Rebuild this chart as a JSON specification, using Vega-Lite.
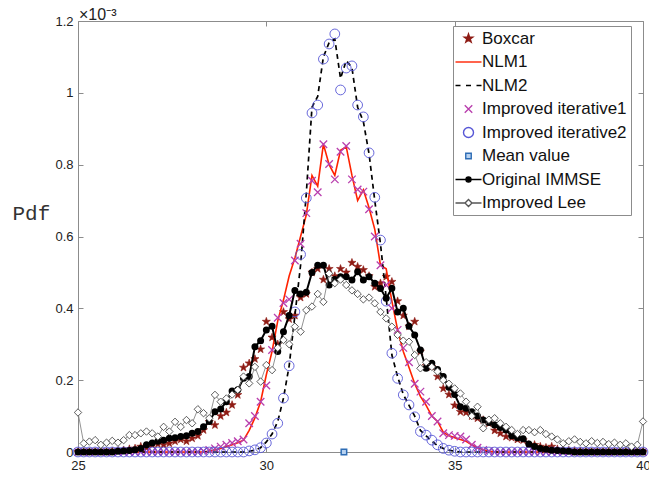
{
"$schema": "https://vega.github.io/schema/vega-lite/v6.json",
"width": 565, "height": 431,
"autosize": {"type": "none"},
"padding": {"left": 78, "top": 21, "right": 6, "bottom": 26},
"background": "white",
"title": {"text": "×10⁻³", "anchor": "start", "frame": "group", "offset": 3, "dx": 1, "dy": 11, "fontSize": 16, "font": "Liberation Sans", "fontWeight": "normal", "color": "#222"},
"config": {
  "font": "Liberation Sans",
  "view": {"stroke": "#8c8c8c", "strokeWidth": 1},
  "axis": {"grid": false, "domain": false, "tickColor": "#8c8c8c", "tickSize": -5, "labelFont": "Liberation Sans", "labelFontSize": 13, "labelColor": "#222"},
  "legend": {"orient": "none", "legendX": 375, "legendY": 5, "padding": 4, "strokeColor": "#8c8c8c", "fillColor": "#ffffff", "cornerRadius": 0, "labelFont": "Liberation Sans", "labelFontSize": 17, "labelColor": "#111", "symbolSize": 100, "symbolStrokeWidth": 1.4, "symbolOffset": 3, "labelOffset": 5, "rowPadding": 5.5, "labelLimit": 300, "symbolOpacity": 1}
},
"datasets": {
"mean": [{"series": "Mean value", "x": 32.06, "value": 0}],
"pdf": [
{"x":25.000,"Boxcar":0,"NLM1":0,"NLM2":0,"Improved iterative1":0,"Improved iterative2":0,"Original IMMSE":0,"Improved Lee":0.11},
{"x":25.152,"Boxcar":0,"NLM1":0,"NLM2":0,"Improved iterative1":0,"Improved iterative2":0,"Original IMMSE":0,"Improved Lee":0.024},
{"x":25.303,"Boxcar":0,"NLM1":0,"NLM2":0,"Improved iterative1":0,"Improved iterative2":0,"Original IMMSE":0,"Improved Lee":0.029},
{"x":25.455,"Boxcar":0,"NLM1":0,"NLM2":0,"Improved iterative1":0,"Improved iterative2":0,"Original IMMSE":0,"Improved Lee":0.033},
{"x":25.606,"Boxcar":0,"NLM1":0,"NLM2":0,"Improved iterative1":0,"Improved iterative2":0,"Original IMMSE":0,"Improved Lee":0.02},
{"x":25.758,"Boxcar":0,"NLM1":0,"NLM2":0,"Improved iterative1":0,"Improved iterative2":0,"Original IMMSE":0,"Improved Lee":0.026},
{"x":25.909,"Boxcar":0.002,"NLM1":0,"NLM2":0,"Improved iterative1":0,"Improved iterative2":0,"Original IMMSE":0,"Improved Lee":0.031},
{"x":26.061,"Boxcar":0.003,"NLM1":0,"NLM2":0,"Improved iterative1":0,"Improved iterative2":0,"Original IMMSE":0.002,"Improved Lee":0.026},
{"x":26.212,"Boxcar":0.005,"NLM1":0,"NLM2":0,"Improved iterative1":0,"Improved iterative2":0,"Original IMMSE":0.003,"Improved Lee":0.033},
{"x":26.364,"Boxcar":0.008,"NLM1":0,"NLM2":0,"Improved iterative1":0,"Improved iterative2":0,"Original IMMSE":0.004,"Improved Lee":0.047},
{"x":26.515,"Boxcar":0.01,"NLM1":0,"NLM2":0,"Improved iterative1":0,"Improved iterative2":0,"Original IMMSE":0.006,"Improved Lee":0.047},
{"x":26.667,"Boxcar":0.015,"NLM1":0,"NLM2":0,"Improved iterative1":0,"Improved iterative2":0,"Original IMMSE":0.01,"Improved Lee":0.052},
{"x":26.818,"Boxcar":0.012,"NLM1":0,"NLM2":0,"Improved iterative1":0,"Improved iterative2":0,"Original IMMSE":0.02,"Improved Lee":0.057},
{"x":26.970,"Boxcar":0.02,"NLM1":0,"NLM2":0,"Improved iterative1":0,"Improved iterative2":0,"Original IMMSE":0.025,"Improved Lee":0.052},
{"x":27.121,"Boxcar":0.022,"NLM1":0,"NLM2":0,"Improved iterative1":0,"Improved iterative2":0,"Original IMMSE":0.03,"Improved Lee":0.043},
{"x":27.273,"Boxcar":0.02,"NLM1":0,"NLM2":0,"Improved iterative1":0,"Improved iterative2":0,"Original IMMSE":0.033,"Improved Lee":0.07},
{"x":27.424,"Boxcar":0.024,"NLM1":0,"NLM2":0,"Improved iterative1":0,"Improved iterative2":0,"Original IMMSE":0.038,"Improved Lee":0.057},
{"x":27.576,"Boxcar":0.03,"NLM1":0,"NLM2":0,"Improved iterative1":0,"Improved iterative2":0,"Original IMMSE":0.04,"Improved Lee":0.084},
{"x":27.727,"Boxcar":0.035,"NLM1":0,"NLM2":0,"Improved iterative1":0,"Improved iterative2":0,"Original IMMSE":0.043,"Improved Lee":0.07},
{"x":27.879,"Boxcar":0.03,"NLM1":0,"NLM2":0,"Improved iterative1":0,"Improved iterative2":0,"Original IMMSE":0.045,"Improved Lee":0.089},
{"x":28.030,"Boxcar":0.038,"NLM1":0,"NLM2":0,"Improved iterative1":0,"Improved iterative2":0,"Original IMMSE":0.052,"Improved Lee":0.08},
{"x":28.182,"Boxcar":0.045,"NLM1":0,"NLM2":0,"Improved iterative1":0,"Improved iterative2":0,"Original IMMSE":0.057,"Improved Lee":0.119},
{"x":28.333,"Boxcar":0.061,"NLM1":0,"NLM2":0,"Improved iterative1":0.003,"Improved iterative2":0,"Original IMMSE":0.07,"Improved Lee":0.108},
{"x":28.485,"Boxcar":0.084,"NLM1":0.003,"NLM2":0,"Improved iterative1":0.006,"Improved iterative2":0,"Original IMMSE":0.085,"Improved Lee":0.094},
{"x":28.636,"Boxcar":0.075,"NLM1":0.006,"NLM2":0,"Improved iterative1":0.01,"Improved iterative2":0,"Original IMMSE":0.112,"Improved Lee":0.159},
{"x":28.788,"Boxcar":0.1,"NLM1":0.01,"NLM2":0,"Improved iterative1":0.015,"Improved iterative2":0,"Original IMMSE":0.12,"Improved Lee":0.14},
{"x":28.939,"Boxcar":0.11,"NLM1":0.015,"NLM2":0,"Improved iterative1":0.02,"Improved iterative2":0,"Original IMMSE":0.14,"Improved Lee":0.149},
{"x":29.091,"Boxcar":0.131,"NLM1":0.02,"NLM2":0,"Improved iterative1":0.025,"Improved iterative2":0,"Original IMMSE":0.17,"Improved Lee":0.16},
{"x":29.242,"Boxcar":0.159,"NLM1":0.026,"NLM2":0,"Improved iterative1":0.03,"Improved iterative2":0,"Original IMMSE":0.173,"Improved Lee":0.173},
{"x":29.394,"Boxcar":0.235,"NLM1":0.033,"NLM2":0,"Improved iterative1":0.035,"Improved iterative2":0,"Original IMMSE":0.205,"Improved Lee":0.21},
{"x":29.545,"Boxcar":0.247,"NLM1":0.06,"NLM2":0.002,"Improved iterative1":0.08,"Improved iterative2":0.003,"Original IMMSE":0.21,"Improved Lee":0.191},
{"x":29.697,"Boxcar":0.259,"NLM1":0.095,"NLM2":0.005,"Improved iterative1":0.1,"Improved iterative2":0.006,"Original IMMSE":0.293,"Improved Lee":0.237},
{"x":29.848,"Boxcar":0.286,"NLM1":0.14,"NLM2":0.012,"Improved iterative1":0.14,"Improved iterative2":0.012,"Original IMMSE":0.31,"Improved Lee":0.196},
{"x":30.000,"Boxcar":0.363,"NLM1":0.215,"NLM2":0.028,"Improved iterative1":0.185,"Improved iterative2":0.025,"Original IMMSE":0.34,"Improved Lee":0.242},
{"x":30.152,"Boxcar":0.319,"NLM1":0.28,"NLM2":0.05,"Improved iterative1":0.284,"Improved iterative2":0.05,"Original IMMSE":0.35,"Improved Lee":0.228},
{"x":30.303,"Boxcar":0.3,"NLM1":0.365,"NLM2":0.085,"Improved iterative1":0.374,"Improved iterative2":0.08,"Original IMMSE":0.28,"Improved Lee":0.29},
{"x":30.455,"Boxcar":0.39,"NLM1":0.423,"NLM2":0.15,"Improved iterative1":0.415,"Improved iterative2":0.15,"Original IMMSE":0.335,"Improved Lee":0.312},
{"x":30.606,"Boxcar":0.37,"NLM1":0.49,"NLM2":0.24,"Improved iterative1":0.425,"Improved iterative2":0.24,"Original IMMSE":0.38,"Improved Lee":0.3},
{"x":30.758,"Boxcar":0.38,"NLM1":0.54,"NLM2":0.38,"Improved iterative1":0.533,"Improved iterative2":0.39,"Original IMMSE":0.45,"Improved Lee":0.349},
{"x":30.909,"Boxcar":0.43,"NLM1":0.6,"NLM2":0.52,"Improved iterative1":0.58,"Improved iterative2":0.55,"Original IMMSE":0.44,"Improved Lee":0.335},
{"x":31.061,"Boxcar":0.44,"NLM1":0.66,"NLM2":0.72,"Improved iterative1":0.665,"Improved iterative2":0.707,"Original IMMSE":0.445,"Improved Lee":0.395},
{"x":31.212,"Boxcar":0.5,"NLM1":0.77,"NLM2":0.96,"Improved iterative1":0.755,"Improved iterative2":0.944,"Original IMMSE":0.5,"Improved Lee":0.405},
{"x":31.364,"Boxcar":0.51,"NLM1":0.74,"NLM2":0.99,"Improved iterative1":0.723,"Improved iterative2":0.966,"Original IMMSE":0.52,"Improved Lee":0.44},
{"x":31.515,"Boxcar":0.48,"NLM1":0.857,"NLM2":1.1,"Improved iterative1":0.857,"Improved iterative2":1.094,"Original IMMSE":0.52,"Improved Lee":0.418},
{"x":31.667,"Boxcar":0.51,"NLM1":0.8,"NLM2":1.14,"Improved iterative1":0.802,"Improved iterative2":1.136,"Original IMMSE":0.465,"Improved Lee":0.497},
{"x":31.818,"Boxcar":0.49,"NLM1":0.77,"NLM2":1.15,"Improved iterative1":0.759,"Improved iterative2":1.164,"Original IMMSE":0.48,"Improved Lee":0.47},
{"x":31.970,"Boxcar":0.51,"NLM1":0.84,"NLM2":1.04,"Improved iterative1":0.836,"Improved iterative2":1.008,"Original IMMSE":0.488,"Improved Lee":0.48},
{"x":32.121,"Boxcar":0.5,"NLM1":0.85,"NLM2":1.09,"Improved iterative1":0.852,"Improved iterative2":1.069,"Original IMMSE":0.488,"Improved Lee":0.465},
{"x":32.273,"Boxcar":0.527,"NLM1":0.77,"NLM2":1.07,"Improved iterative1":0.759,"Improved iterative2":1.075,"Original IMMSE":0.479,"Improved Lee":0.45},
{"x":32.424,"Boxcar":0.516,"NLM1":0.7,"NLM2":0.96,"Improved iterative1":0.731,"Improved iterative2":0.966,"Original IMMSE":0.502,"Improved Lee":0.44},
{"x":32.576,"Boxcar":0.507,"NLM1":0.73,"NLM2":0.92,"Improved iterative1":0.725,"Improved iterative2":0.933,"Original IMMSE":0.479,"Improved Lee":0.425},
{"x":32.727,"Boxcar":0.49,"NLM1":0.68,"NLM2":0.83,"Improved iterative1":0.676,"Improved iterative2":0.833,"Original IMMSE":0.488,"Improved Lee":0.43},
{"x":32.879,"Boxcar":0.46,"NLM1":0.62,"NLM2":0.7,"Improved iterative1":0.6,"Improved iterative2":0.709,"Original IMMSE":0.47,"Improved Lee":0.414},
{"x":33.030,"Boxcar":0.47,"NLM1":0.52,"NLM2":0.58,"Improved iterative1":0.52,"Improved iterative2":0.59,"Original IMMSE":0.455,"Improved Lee":0.39},
{"x":33.182,"Boxcar":0.488,"NLM1":0.51,"NLM2":0.43,"Improved iterative1":0.465,"Improved iterative2":0.42,"Original IMMSE":0.428,"Improved Lee":0.372},
{"x":33.333,"Boxcar":0.474,"NLM1":0.42,"NLM2":0.27,"Improved iterative1":0.4,"Improved iterative2":0.275,"Original IMMSE":0.456,"Improved Lee":0.349},
{"x":33.485,"Boxcar":0.42,"NLM1":0.34,"NLM2":0.21,"Improved iterative1":0.34,"Improved iterative2":0.205,"Original IMMSE":0.39,"Improved Lee":0.326},
{"x":33.636,"Boxcar":0.38,"NLM1":0.28,"NLM2":0.16,"Improved iterative1":0.29,"Improved iterative2":0.159,"Original IMMSE":0.4,"Improved Lee":0.31},
{"x":33.788,"Boxcar":0.35,"NLM1":0.235,"NLM2":0.13,"Improved iterative1":0.25,"Improved iterative2":0.131,"Original IMMSE":0.35,"Improved Lee":0.307},
{"x":33.939,"Boxcar":0.363,"NLM1":0.19,"NLM2":0.1,"Improved iterative1":0.19,"Improved iterative2":0.098,"Original IMMSE":0.326,"Improved Lee":0.27},
{"x":34.091,"Boxcar":0.28,"NLM1":0.155,"NLM2":0.06,"Improved iterative1":0.168,"Improved iterative2":0.057,"Original IMMSE":0.284,"Improved Lee":0.233},
{"x":34.242,"Boxcar":0.24,"NLM1":0.13,"NLM2":0.045,"Improved iterative1":0.14,"Improved iterative2":0.047,"Original IMMSE":0.233,"Improved Lee":0.25},
{"x":34.394,"Boxcar":0.237,"NLM1":0.1,"NLM2":0.03,"Improved iterative1":0.1,"Improved iterative2":0.033,"Original IMMSE":0.247,"Improved Lee":0.237},
{"x":34.545,"Boxcar":0.21,"NLM1":0.085,"NLM2":0.018,"Improved iterative1":0.085,"Improved iterative2":0.02,"Original IMMSE":0.23,"Improved Lee":0.224},
{"x":34.697,"Boxcar":0.177,"NLM1":0.055,"NLM2":0.01,"Improved iterative1":0.052,"Improved iterative2":0.01,"Original IMMSE":0.21,"Improved Lee":0.2},
{"x":34.848,"Boxcar":0.16,"NLM1":0.045,"NLM2":0.005,"Improved iterative1":0.047,"Improved iterative2":0.005,"Original IMMSE":0.18,"Improved Lee":0.19},
{"x":35.000,"Boxcar":0.13,"NLM1":0.04,"NLM2":0.002,"Improved iterative1":0.045,"Improved iterative2":0.002,"Original IMMSE":0.16,"Improved Lee":0.177},
{"x":35.152,"Boxcar":0.112,"NLM1":0.035,"NLM2":0,"Improved iterative1":0.043,"Improved iterative2":0,"Original IMMSE":0.126,"Improved Lee":0.163},
{"x":35.303,"Boxcar":0.11,"NLM1":0.03,"NLM2":0,"Improved iterative1":0.035,"Improved iterative2":0,"Original IMMSE":0.122,"Improved Lee":0.14},
{"x":35.455,"Boxcar":0.1,"NLM1":0.02,"NLM2":0,"Improved iterative1":0.02,"Improved iterative2":0,"Original IMMSE":0.112,"Improved Lee":0.1},
{"x":35.606,"Boxcar":0.094,"NLM1":0.012,"NLM2":0,"Improved iterative1":0.012,"Improved iterative2":0,"Original IMMSE":0.1,"Improved Lee":0.126},
{"x":35.758,"Boxcar":0.089,"NLM1":0.006,"NLM2":0,"Improved iterative1":0.006,"Improved iterative2":0,"Original IMMSE":0.089,"Improved Lee":0.066},
{"x":35.909,"Boxcar":0.08,"NLM1":0.003,"NLM2":0,"Improved iterative1":0.003,"Improved iterative2":0,"Original IMMSE":0.082,"Improved Lee":0.09},
{"x":36.061,"Boxcar":0.06,"NLM1":0,"NLM2":0,"Improved iterative1":0,"Improved iterative2":0,"Original IMMSE":0.075,"Improved Lee":0.094},
{"x":36.212,"Boxcar":0.052,"NLM1":0,"NLM2":0,"Improved iterative1":0,"Improved iterative2":0,"Original IMMSE":0.068,"Improved Lee":0.08},
{"x":36.364,"Boxcar":0.043,"NLM1":0,"NLM2":0,"Improved iterative1":0,"Improved iterative2":0,"Original IMMSE":0.061,"Improved Lee":0.07},
{"x":36.515,"Boxcar":0.04,"NLM1":0,"NLM2":0,"Improved iterative1":0,"Improved iterative2":0,"Original IMMSE":0.045,"Improved Lee":0.061},
{"x":36.667,"Boxcar":0.035,"NLM1":0,"NLM2":0,"Improved iterative1":0,"Improved iterative2":0,"Original IMMSE":0.04,"Improved Lee":0.05},
{"x":36.818,"Boxcar":0.033,"NLM1":0,"NLM2":0,"Improved iterative1":0,"Improved iterative2":0,"Original IMMSE":0.037,"Improved Lee":0.061},
{"x":36.970,"Boxcar":0.02,"NLM1":0,"NLM2":0,"Improved iterative1":0,"Improved iterative2":0,"Original IMMSE":0.022,"Improved Lee":0.061},
{"x":37.121,"Boxcar":0.02,"NLM1":0,"NLM2":0,"Improved iterative1":0,"Improved iterative2":0,"Original IMMSE":0.015,"Improved Lee":0.055},
{"x":37.273,"Boxcar":0.015,"NLM1":0,"NLM2":0,"Improved iterative1":0,"Improved iterative2":0,"Original IMMSE":0.01,"Improved Lee":0.061},
{"x":37.424,"Boxcar":0.012,"NLM1":0,"NLM2":0,"Improved iterative1":0,"Improved iterative2":0,"Original IMMSE":0.008,"Improved Lee":0.05},
{"x":37.576,"Boxcar":0.015,"NLM1":0,"NLM2":0,"Improved iterative1":0,"Improved iterative2":0,"Original IMMSE":0.005,"Improved Lee":0.043},
{"x":37.727,"Boxcar":0.008,"NLM1":0,"NLM2":0,"Improved iterative1":0,"Improved iterative2":0,"Original IMMSE":0.004,"Improved Lee":0.035},
{"x":37.879,"Boxcar":0.005,"NLM1":0,"NLM2":0,"Improved iterative1":0,"Improved iterative2":0,"Original IMMSE":0.003,"Improved Lee":0.024},
{"x":38.030,"Boxcar":0.004,"NLM1":0,"NLM2":0,"Improved iterative1":0,"Improved iterative2":0,"Original IMMSE":0.002,"Improved Lee":0.03},
{"x":38.182,"Boxcar":0.003,"NLM1":0,"NLM2":0,"Improved iterative1":0,"Improved iterative2":0,"Original IMMSE":0,"Improved Lee":0.035},
{"x":38.333,"Boxcar":0.002,"NLM1":0,"NLM2":0,"Improved iterative1":0,"Improved iterative2":0,"Original IMMSE":0,"Improved Lee":0.028},
{"x":38.485,"Boxcar":0,"NLM1":0,"NLM2":0,"Improved iterative1":0,"Improved iterative2":0,"Original IMMSE":0,"Improved Lee":0.024},
{"x":38.636,"Boxcar":0,"NLM1":0,"NLM2":0,"Improved iterative1":0,"Improved iterative2":0,"Original IMMSE":0,"Improved Lee":0.03},
{"x":38.788,"Boxcar":0,"NLM1":0,"NLM2":0,"Improved iterative1":0,"Improved iterative2":0,"Original IMMSE":0,"Improved Lee":0.025},
{"x":38.939,"Boxcar":0,"NLM1":0,"NLM2":0,"Improved iterative1":0,"Improved iterative2":0,"Original IMMSE":0,"Improved Lee":0.028},
{"x":39.091,"Boxcar":0,"NLM1":0,"NLM2":0,"Improved iterative1":0,"Improved iterative2":0,"Original IMMSE":0,"Improved Lee":0.022},
{"x":39.242,"Boxcar":0,"NLM1":0,"NLM2":0,"Improved iterative1":0,"Improved iterative2":0,"Original IMMSE":0,"Improved Lee":0.026},
{"x":39.394,"Boxcar":0,"NLM1":0,"NLM2":0,"Improved iterative1":0,"Improved iterative2":0,"Original IMMSE":0,"Improved Lee":0.02},
{"x":39.545,"Boxcar":0,"NLM1":0,"NLM2":0,"Improved iterative1":0,"Improved iterative2":0,"Original IMMSE":0,"Improved Lee":0.024},
{"x":39.697,"Boxcar":0,"NLM1":0,"NLM2":0,"Improved iterative1":0,"Improved iterative2":0,"Original IMMSE":0,"Improved Lee":0.015},
{"x":39.848,"Boxcar":0,"NLM1":0,"NLM2":0,"Improved iterative1":0,"Improved iterative2":0,"Original IMMSE":0,"Improved Lee":0.02},
{"x":40.000,"Boxcar":0,"NLM1":0,"NLM2":0,"Improved iterative1":0,"Improved iterative2":0,"Original IMMSE":0,"Improved Lee":0.085}
]
},
"layer": [
{
 "data": {"name": "pdf"},
 "transform": [{"fold": ["Boxcar","NLM1","NLM2","Improved iterative1","Improved iterative2","Original IMMSE","Improved Lee"], "as": ["series","value"]}, {"filter": "datum.series === 'Boxcar'"}],
 "mark": {"type": "point", "size": 90, "opacity": 1, "strokeWidth": 0.6},
 "encoding": {
  "x": {"field": "x", "type": "quantitative", "scale": {"domain": [25, 40], "nice": false, "zero": false}, "axis": {"orient": "bottom", "values": [25, 30, 35, 40], "title": null, "labelFlush": false, "labelOverlap": false, "labelPadding": 12}},
  "y": {"field": "value", "type": "quantitative", "scale": {"domain": [0, 1.2], "nice": false}, "axis": {"orient": "left", "values": [0, 0.2, 0.4, 0.6, 0.8, 1, 1.2], "format": "~g", "labelPadding": 10, "labelOverlap": false, "title": "Pdf", "titleAngle": 0, "titleFont": "Liberation Mono", "titleFontSize": 21, "titleFontWeight": "normal", "titleColor": "#333", "titleX": -66, "titleY": 192, "titleAlign": "left", "titleBaseline": "middle"}},
  "shape": {"field": "series", "type": "nominal", "title": null, "scale": {"domain": ["Boxcar","NLM1","NLM2","Improved iterative1","Improved iterative2","Mean value","Original IMMSE","Improved Lee"], "range": ["M0,-0.9L0.212,-0.291L0.856,-0.278L0.342,0.111L0.529,0.728L0,0.36L-0.529,0.728L-0.342,0.111L-0.856,-0.278L-0.212,-0.291Z", "M-2.6,0H2.6", "M-2.6,0H-1.6M-0.5,0H0.5M1.6,0H2.6", "M-0.75,-0.75L0.75,0.75M-0.75,0.75L0.75,-0.75", "circle", "M-0.55,-0.55H0.55V0.55H-0.55Z", "M-2.6,0H-0.5M0.5,0H2.6M-0.5,0A0.5,0.5 0 1,1 0.5,0A0.5,0.5 0 1,1 -0.5,0Z", "M-2.6,0H-0.7M0.7,0H2.6M-0.7,0L0,-0.7L0.7,0L0,0.7Z"]}},
  "stroke": {"field": "series", "type": "nominal", "title": null, "scale": {"domain": ["Boxcar","NLM1","NLM2","Improved iterative1","Improved iterative2","Mean value","Original IMMSE","Improved Lee"], "range": ["#8e1b14", "#ff2200", "#000000", "#b93fae", "#5757d6", "#2e6db5", "#000000", "#555555"]}},
  "fill": {"field": "series", "type": "nominal", "title": null, "scale": {"domain": ["Boxcar","NLM1","NLM2","Improved iterative1","Improved iterative2","Mean value","Original IMMSE","Improved Lee"], "range": ["#8e1b14", "#ff2200", "#000000", "transparent", "transparent", "#b8d2f0", "#000000", "#ffffff"]}}
 }
},
{
 "data": {"name": "pdf"},
 "transform": [{"fold": ["Boxcar","NLM1","NLM2","Improved iterative1","Improved iterative2","Original IMMSE","Improved Lee"], "as": ["series","value"]}, {"filter": "datum.series === 'NLM1'"}],
 "mark": {"type": "line", "stroke": "#ff2200", "strokeWidth": 1.6},
 "encoding": {"x": {"field": "x", "type": "quantitative", "axis": null}, "y": {"field": "value", "type": "quantitative", "axis": null}}
},
{
 "data": {"name": "pdf"},
 "transform": [{"fold": ["Boxcar","NLM1","NLM2","Improved iterative1","Improved iterative2","Original IMMSE","Improved Lee"], "as": ["series","value"]}, {"filter": "datum.series === 'NLM2'"}],
 "mark": {"type": "line", "stroke": "#000000", "strokeWidth": 1.7, "strokeDash": [5, 4]},
 "encoding": {"x": {"field": "x", "type": "quantitative", "axis": null}, "y": {"field": "value", "type": "quantitative", "axis": null}}
},
{
 "data": {"name": "pdf"},
 "transform": [{"fold": ["Boxcar","NLM1","NLM2","Improved iterative1","Improved iterative2","Original IMMSE","Improved Lee"], "as": ["series","value"]}, {"filter": "datum.series === 'Improved iterative1'"}],
 "mark": {"type": "point", "size": 100, "opacity": 1, "strokeWidth": 1.3},
 "encoding": {
  "x": {"field": "x", "type": "quantitative", "axis": null}, "y": {"field": "value", "type": "quantitative", "axis": null},
  "shape": {"field": "series", "type": "nominal", "title": null},
  "stroke": {"field": "series", "type": "nominal", "title": null},
  "fill": {"field": "series", "type": "nominal", "title": null}
 }
},
{
 "data": {"name": "pdf"},
 "transform": [{"fold": ["Boxcar","NLM1","NLM2","Improved iterative1","Improved iterative2","Original IMMSE","Improved Lee"], "as": ["series","value"]}, {"filter": "datum.series === 'Improved iterative2'"}],
 "mark": {"type": "point", "size": 95, "opacity": 1, "strokeWidth": 0.9},
 "encoding": {
  "x": {"field": "x", "type": "quantitative", "axis": null}, "y": {"field": "value", "type": "quantitative", "axis": null},
  "shape": {"field": "series", "type": "nominal", "title": null},
  "stroke": {"field": "series", "type": "nominal", "title": null},
  "fill": {"field": "series", "type": "nominal", "title": null}
 }
},
{
 "data": {"name": "mean"},
 "mark": {"type": "point", "size": 100, "opacity": 1, "strokeWidth": 1.5},
 "encoding": {
  "x": {"field": "x", "type": "quantitative", "axis": {"orient": "top", "values": [25, 30, 35, 40], "labels": false, "title": null}},
  "y": {"field": "value", "type": "quantitative", "axis": {"orient": "right", "values": [0, 0.2, 0.4, 0.6, 0.8, 1, 1.2], "labels": false, "title": null}},
  "shape": {"field": "series", "type": "nominal", "title": null},
  "stroke": {"field": "series", "type": "nominal", "title": null},
  "fill": {"field": "series", "type": "nominal", "title": null}
 }
},
{
 "data": {"name": "pdf"},
 "transform": [{"fold": ["Boxcar","NLM1","NLM2","Improved iterative1","Improved iterative2","Original IMMSE","Improved Lee"], "as": ["series","value"]}, {"filter": "datum.series === 'Original IMMSE'"}],
 "mark": {"type": "line", "stroke": "#000000", "strokeWidth": 2},
 "encoding": {"x": {"field": "x", "type": "quantitative", "axis": null}, "y": {"field": "value", "type": "quantitative", "axis": null}}
},
{
 "data": {"name": "pdf"},
 "transform": [{"fold": ["Boxcar","NLM1","NLM2","Improved iterative1","Improved iterative2","Original IMMSE","Improved Lee"], "as": ["series","value"]}, {"filter": "datum.series === 'Original IMMSE'"}],
 "mark": {"type": "point", "shape": "circle", "size": 25, "filled": true, "fill": "#000000", "stroke": "#000000", "opacity": 1},
 "encoding": {"x": {"field": "x", "type": "quantitative", "axis": null}, "y": {"field": "value", "type": "quantitative", "axis": null}}
},
{
 "data": {"name": "pdf"},
 "transform": [{"fold": ["Boxcar","NLM1","NLM2","Improved iterative1","Improved iterative2","Original IMMSE","Improved Lee"], "as": ["series","value"]}, {"filter": "datum.series === 'Improved Lee'"}],
 "mark": {"type": "line", "stroke": "#777777", "strokeWidth": 0.8},
 "encoding": {"x": {"field": "x", "type": "quantitative", "axis": null}, "y": {"field": "value", "type": "quantitative", "axis": null}}
},
{
 "data": {"name": "pdf"},
 "transform": [{"fold": ["Boxcar","NLM1","NLM2","Improved iterative1","Improved iterative2","Original IMMSE","Improved Lee"], "as": ["series","value"]}, {"filter": "datum.series === 'Improved Lee'"}],
 "mark": {"type": "point", "shape": "diamond", "size": 55, "filled": true, "fill": "#ffffff", "stroke": "#333333", "strokeWidth": 0.8, "opacity": 1},
 "encoding": {"x": {"field": "x", "type": "quantitative", "axis": null}, "y": {"field": "value", "type": "quantitative", "axis": null}}
}
],
"resolve": {"axis": {"x": "independent", "y": "independent"}}
}
